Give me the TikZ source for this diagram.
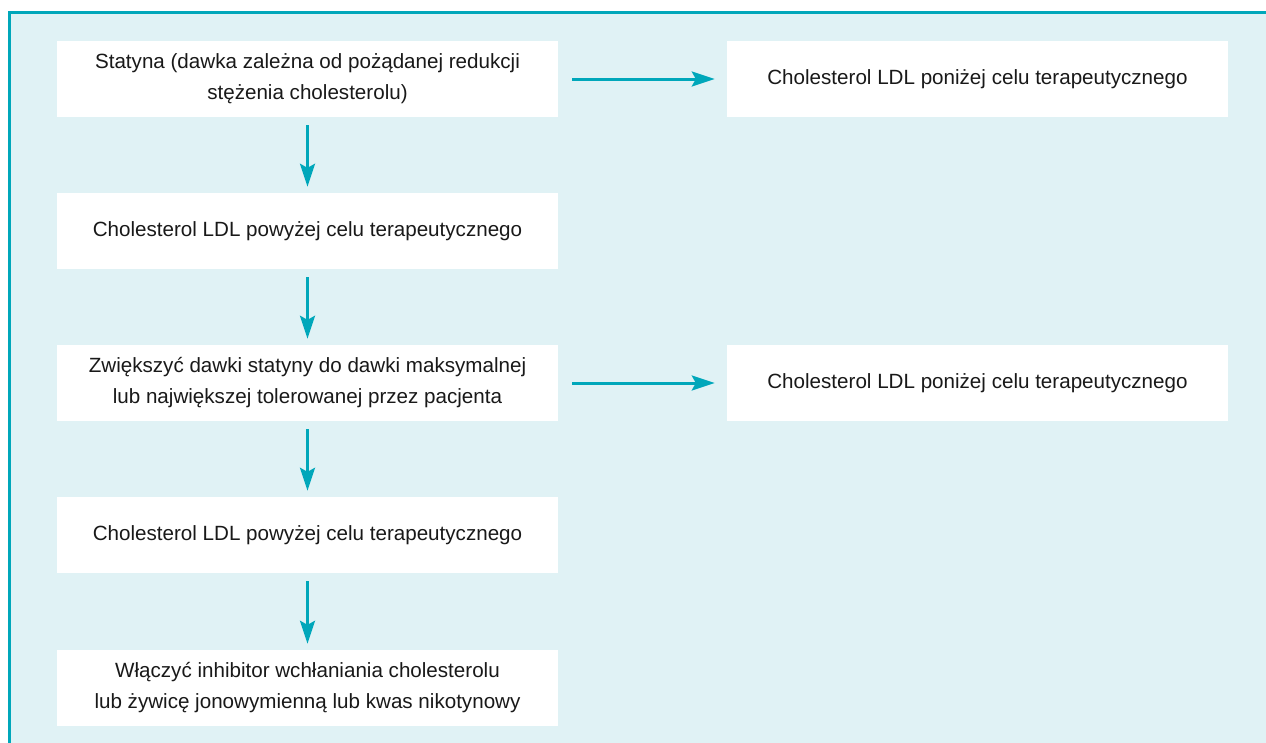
\documentclass[tikz,border=0pt]{standalone}
\usepackage{fontspec}
\setmainfont{Liberation Sans}
\usetikzlibrary{arrows.meta}
\definecolor{teal1}{HTML}{00A7BA}
\definecolor{bgl}{HTML}{E0F2F5}
\tikzset{
  box/.style={fill=white, minimum width=501pt, minimum height=76pt, inner sep=0pt, align=center,
    font=\fontsize{20.6pt}{31pt}\selectfont, text=black!90},
  flow/.style={teal1, line width=3pt, -{Stealth[length=23pt,width=15pt,inset=4pt]}}
}
\begin{document}
\begin{tikzpicture}[x=1pt,y=-1pt]
\useasboundingbox (0,0) rectangle (1266,742);
\clip (0,0) rectangle (1266,742);
\draw[teal1, line width=3pt, fill=bgl] (9.5,12.5) rectangle (1300,800);
\node[box] (b1) at (307.5,79) {Statyna (dawka zależna od pożądanej redukcji\\stężenia cholesterolu)};
\node[box] (r1) at (977.5,79) {Cholesterol LDL poniżej celu terapeutycznego};
\node[box] (b2) at (307.5,231) {Cholesterol LDL powyżej celu terapeutycznego};
\node[box] (b3) at (307.5,383) {Zwiększyć dawki statyny do dawki maksymalnej\\lub największej tolerowanej przez pacjenta};
\node[box] (r3) at (977.5,383) {Cholesterol LDL poniżej celu terapeutycznego};
\node[box] (b4) at (307.5,535) {Cholesterol LDL powyżej celu terapeutycznego};
\node[box] (b5) at (307.5,688) {Włączyć inhibitor wchłaniania cholesterolu\\lub żywicę jonowymienną lub kwas nikotynowy};
\draw[flow, shorten <=14pt, shorten >=12pt] (b1.east) -- (r1.west);
\draw[flow, shorten <=14pt, shorten >=12pt] (b3.east) -- (r3.west);
\draw[flow, shorten <=8pt, shorten >=6pt] (b1.south) -- (b2.north);
\draw[flow, shorten <=8pt, shorten >=6pt] (b2.south) -- (b3.north);
\draw[flow, shorten <=8pt, shorten >=6pt] (b3.south) -- (b4.north);
\draw[flow, shorten <=8pt, shorten >=6pt] (b4.south) -- (b5.north);
\end{tikzpicture}
\end{document}
